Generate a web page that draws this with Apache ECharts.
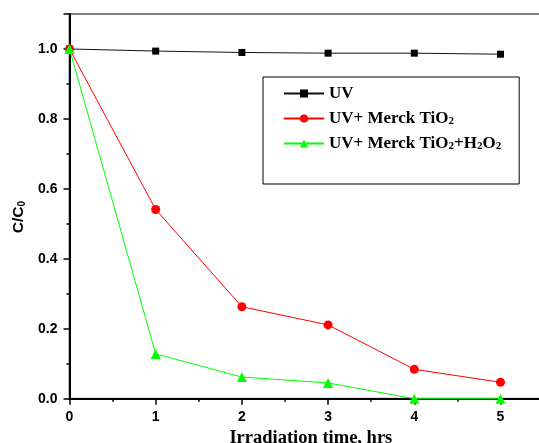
<!DOCTYPE html>
<html>
<head>
<meta charset="utf-8">
<script src="https://cdn.jsdelivr.net/npm/echarts@6/dist/echarts.min.js"></script>
<style>
  html, body { margin: 0; padding: 0; background: #fff; }
  #main { width: 539px; height: 443px; }
</style>
</head>
<body>
<div id="main"></div>
<script>
// irradiation time (hrs)
var hours = [0, 1, 2, 3, 4, 5]
// C/C0
var uv = [1.0, 0.994, 0.99, 0.988, 0.988, 0.985]
var uvTiO2 = [1.0, 0.541, 0.263, 0.211, 0.084, 0.047]
var uvTiO2H2O2 = [1.0, 0.128, 0.062, 0.045, 0.0, 0.0]

var seriesNames = ['UV', 'UV+ Merck TiO2', 'UV+ Merck TiO2+H2O2']
// rich text versions for subscripts
var legendText = {
  'UV': '{n|UV}',
  'UV+ Merck TiO2': '{n|UV+ Merck TiO}{s|2}',
  'UV+ Merck TiO2+H2O2': '{n|UV+ Merck TiO}{s|2}{n|+H}{s|2}{n|O}{s|2}'
}

function pairs (ys) {
  return hours.map(function (h, i) { return [h, ys[i]] })
}

var serif = '"Liberation Serif", "Times New Roman", serif'
var sans = '"Liberation Sans", Arial, sans-serif'

var chart = echarts.init(document.getElementById('main'))
var option = {
  animation: false,
  backgroundColor: '#fff',
  grid: {
    left: 69.5,
    top: 14,
    width: 482.7,
    bottom: 44.3,
    outerBoundsMode: 'none',
    containLabel: false,
    show: true,
    borderColor: '#808080',
    borderWidth: 2
  },
  legend: {
    orient: 'vertical',
    left: 263,
    top: 77,
    data: seriesNames,
    itemWidth: 40,
    itemHeight: 10,
    itemGap: 5,
    padding: [8, 18, 32, 20],
    borderColor: '#000',
    borderWidth: 1,
    formatter: function (name) { return legendText[name] },
    textStyle: {
      rich: {
        n: { fontFamily: serif, fontWeight: 'bold', fontSize: 17, color: '#000', lineHeight: 17, verticalAlign: 'top' },
        s: { fontFamily: serif, fontWeight: 'bold', fontSize: 11, color: '#000', lineHeight: 12, verticalAlign: 'bottom', padding: [9, 0, 0, 0] }
      }
    }
  },
  xAxis: {
    type: 'value',
    min: 0,
    max: 5.6,
    interval: 1,
    name: 'Irradiation time, hrs',
    nameLocation: 'middle',
    nameGap: 30,
    nameTextStyle: { fontFamily: serif, fontWeight: 'bold', fontSize: 18.5, color: '#000' },
    axisLine: { onZero: false, lineStyle: { color: '#000', width: 2 } },
    axisTick: { length: 6, lineStyle: { color: '#000', width: 1.5 } },
    minorTick: { show: true, splitNumber: 2, length: 3, lineStyle: { color: '#000', width: 1.5 } },
    splitLine: { show: false },
    axisLabel: {
      margin: 11,
      fontFamily: sans,
      fontWeight: 'bold',
      fontSize: 14,
      color: '#000',
      formatter: function (v) { return Number.isInteger(v) ? String(v) : '' }
    }
  },
  yAxis: {
    type: 'value',
    min: 0,
    max: 1.1,
    interval: 0.2,
    axisLine: { lineStyle: { color: '#000', width: 2 } },
    axisTick: { length: 6, lineStyle: { color: '#000', width: 1.5 } },
    minorTick: { show: true, splitNumber: 2, length: 3, lineStyle: { color: '#000', width: 1.5 } },
    splitLine: { show: false },
    axisLabel: {
      margin: 12,
      fontFamily: sans,
      fontWeight: 'bold',
      fontSize: 14,
      color: '#000',
      formatter: function (v) {
        var r = Math.round(v * 10)
        return r % 2 === 0 ? (r / 10).toFixed(1) : ''
      }
    }
  },
  graphic: [{
    type: 'text',
    x: 19,
    y: 217,
    rotation: Math.PI / 2,
    style: {
      text: '{n|C/C}{s|0}',
      align: 'center',
      verticalAlign: 'middle',
      rich: {
        n: { fontFamily: sans, fontWeight: 'bold', fontSize: 15.5, color: '#000', lineHeight: 16, verticalAlign: 'top' },
        s: { fontFamily: sans, fontWeight: 'bold', fontSize: 10, color: '#000', lineHeight: 10, verticalAlign: 'bottom', padding: [9, 0, 0, 0] }
      }
    }
  }],
  series: [
    {
      name: seriesNames[0],
      type: 'line',
      data: pairs(uv),
      symbol: 'rect',
      symbolSize: 7,
      itemStyle: { color: '#000' },
      lineStyle: { color: '#111', width: 1 },
      z: 4
    },
    {
      name: seriesNames[1],
      type: 'line',
      data: pairs(uvTiO2),
      symbol: 'circle',
      symbolSize: 9,
      itemStyle: { color: '#ff0000' },
      lineStyle: { color: '#ff0000', width: 1 },
      z: 4
    },
    {
      name: seriesNames[2],
      type: 'line',
      data: pairs(uvTiO2H2O2),
      symbol: 'triangle',
      symbolSize: 10,
      itemStyle: { color: '#00ff00' },
      lineStyle: { color: '#00ff00', width: 1 },
      clip: false,
      z: 5
    }
  ]
}
chart.setOption(option)
window.addEventListener('resize', () => {
  chart.resize()
})
</script>
</body>
</html>
